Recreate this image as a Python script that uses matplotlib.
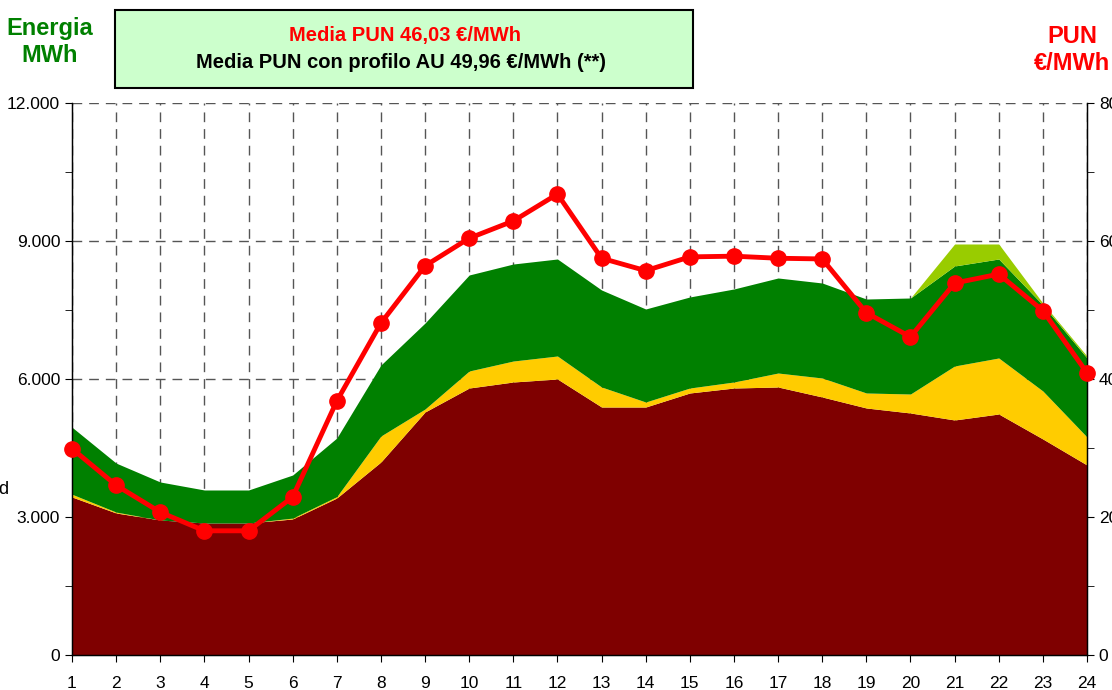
import matplotlib.pyplot as plt
import numpy as np
from matplotlib.ticker import MultipleLocator, FuncFormatter

# ore del giorno
ore = list(range(1, 25))

# energia MWh, strati impilati (dal basso)
strato_rosso = [3435, 3087, 2935, 2870, 2870, 2957, 3413, 4196, 5283, 5804, 5935, 6000,
                5391, 5391, 5696, 5804, 5826, 5609, 5370, 5261, 5109, 5239, 4696, 4130]
strato_giallo = [60, 20, 0, 0, 0, 20, 30, 565, 65, 370, 456, 500,
                 435, 109, 108, 131, 304, 413, 326, 413, 1174, 1218, 1043, 609]
strato_verde = [1457, 1065, 826, 717, 717, 936, 1274, 1543, 1869, 2087, 2109, 2109,
                2109, 2022, 1979, 2022, 2066, 2065, 2043, 2087, 2174, 2152, 1870, 1718]
strato_verde_chiaro = [0, 0, 0, 0, 0, 0, 0, 0, 0, 0, 0, 0,
                       0, 0, 0, 0, 0, 0, 0, 0, 478, 326, 40, 40]

# prezzo PUN €/MWh
pun = [29.9, 24.6, 20.7, 18.0, 18.0, 22.9, 36.8, 48.1, 56.4, 60.4, 62.9, 66.8,
       57.5, 55.7, 57.7, 57.8, 57.5, 57.4, 49.6, 46.1, 53.9, 55.2, 49.9, 40.9]

colori = ['#7F0000', '#FFCC00', '#008000', '#99CC00']

plt.rcParams['font.family'] = ['Liberation Sans', 'DejaVu Sans']

fig = plt.figure(figsize=(11.12, 6.9), dpi=100)
ax1 = fig.add_axes([72 / 1112, 1 - 655 / 690, (1087 - 72) / 1112, (655 - 103) / 690])

# aree impilate
x = np.array(ore)
base = np.zeros(len(ore))
for strato, col in zip([strato_rosso, strato_giallo, strato_verde, strato_verde_chiaro], colori):
    top = base + np.array(strato)
    ax1.fill_between(x, base, top, color=col, linewidth=0, zorder=2)
    base = top

ax1.set_xlim(1, 24)
ax1.set_ylim(0, 12000)
ax1.set_xticks(ore)
ax1.yaxis.set_major_locator(MultipleLocator(3000))
ax1.yaxis.set_minor_locator(MultipleLocator(1500))
ax1.yaxis.set_major_formatter(FuncFormatter(lambda v, p: '{:,.0f}'.format(v).replace(',', '.')))
ax1.tick_params(axis='both', labelsize=12.5, direction='out', length=5, color='black')
ax1.tick_params(axis='y', which='minor', direction='out', length=5)
ax1.tick_params(axis='x', pad=10)
ax1.grid(True, which='major', linestyle=(0, (7, 5)), color='#555555', linewidth=1)
ax1.set_axisbelow(True)
ax1.spines['top'].set_visible(False)
for s in ['left', 'bottom', 'right']:
    ax1.spines[s].set_linewidth(1)

# prezzo su asse secondario
ax2 = ax1.twinx()
ax2.plot(ore, pun, color='#FF0000', linewidth=3.5, marker='o', markersize=11,
         clip_on=False, zorder=5)
ax2.set_ylim(0, 80)
ax2.yaxis.set_major_locator(MultipleLocator(20))
ax2.yaxis.set_minor_locator(MultipleLocator(10))
ax2.tick_params(axis='y', which='both', labelsize=12.5, direction='out', length=5)
ax2.spines['top'].set_visible(False)

# titoli assi
fig.text(50 / 1112, 1 - 42 / 690, 'Energia\nMWh', color='#008000', fontsize=17,
         fontweight='bold', ha='center', va='center', linespacing=1.25)
fig.text(1072 / 1112, 1 - 50 / 690, 'PUN\n€/MWh', color='#FF0000', fontsize=17,
         fontweight='bold', ha='center', va='center', linespacing=1.25)
fig.text(8 / 1112, 1 - 490 / 690, 'd', fontsize=13, ha='right', va='center')

# riquadro medie
box = plt.Rectangle((115 / 1112, 1 - 88 / 690), (693 - 115) / 1112, (88 - 10) / 690,
                    transform=fig.transFigure, facecolor='#CCFFCC', edgecolor='black',
                    linewidth=1.5)
fig.patches.append(box)
fig.text(405 / 1112, 1 - 35 / 690, 'Media PUN 46,03 €/MWh', color='#FF0000',
         fontsize=14.5, fontweight='bold', ha='center', va='center')
fig.text(401 / 1112, 1 - 63 / 690, 'Media PUN con profilo AU 49,96 €/MWh (**)',
         color='black', fontsize=14.5, fontweight='bold', ha='center', va='center')

fig.savefig('out.png', dpi=100)
